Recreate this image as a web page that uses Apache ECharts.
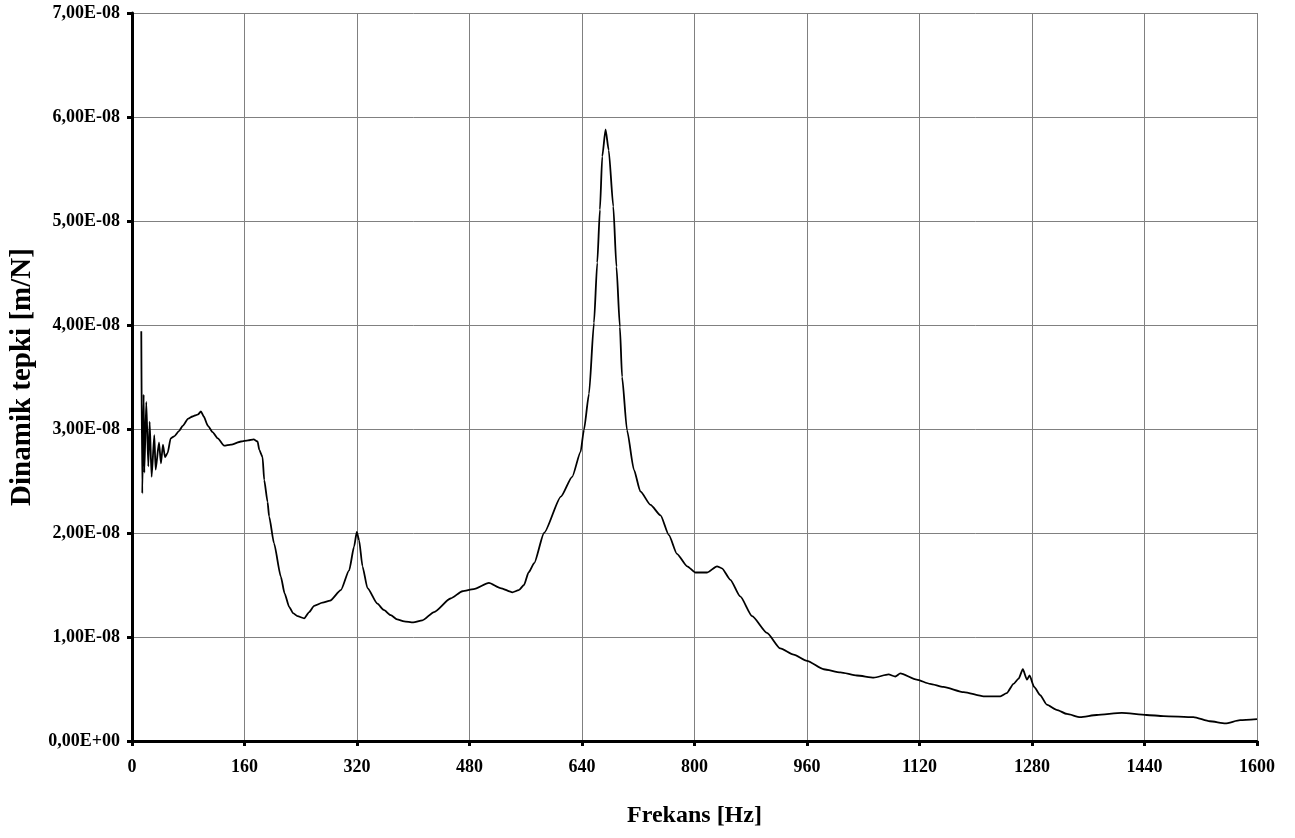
<!DOCTYPE html>
<html>
<head>
<meta charset="utf-8">
<script src="https://cdn.jsdelivr.net/npm/echarts@6/dist/echarts.min.js"></script>
<style>
html,body{margin:0;padding:0;background:#fff;}
#chart{width:1295px;height:838px;}
</style>
</head>
<body>
<div id="chart"></div>
<script>
// Frequency (Hz)
var freqHz = [13.2,14.6,16.6,17.5,20.3,23.2,25.1,27.9,31.7,33.6,38.4,41.2,44,46.9,50.7,55,60,66.8,72,80,86,89.5,94,98,102,108,114.6,122,131,140.7,155,165,173,178.6,181,185.7,188,192.8,195,202,211.7,217,223.5,229,235.4,244.8,252,259,271,281.8,297,308.8,315.9,319.7,323,327.8,334.9,349,358,368,377,387,400,413,429.6,453,470,486,507.7,524,541,550,557.5,564,572,586,610,626,638,642.7,650,657,661.7,665.5,668.8,673.5,678,684.5,689,693.9,697,704,713.8,723,737.5,751.7,763.6,775,789.6,801.4,818,832,839,851,865,882,903,922,941,960,983.8,1007.5,1031,1055,1076,1085.6,1092.7,1116,1135,1154,1183,1211,1235,1244,1253.7,1261,1267,1272.8,1276.5,1283,1291.7,1301,1315,1329.6,1348.5,1372,1407.8,1443,1467,1509.6,1533,1555,1576,1600];
// Dynamic response, in units of 1e-8 m/N
var responseE8 = [3.94,2.38,3.33,2.58,3.26,2.64,3.07,2.54,2.94,2.61,2.87,2.67,2.85,2.73,2.77,2.91,2.93,2.98,3.03,3.10,3.12,3.13,3.14,3.17,3.12,3.03,2.97,2.91,2.84,2.85,2.88,2.89,2.90,2.88,2.80,2.73,2.51,2.30,2.16,1.90,1.58,1.42,1.29,1.23,1.20,1.18,1.24,1.30,1.33,1.35,1.45,1.64,1.87,2.01,1.93,1.68,1.47,1.32,1.26,1.21,1.17,1.15,1.14,1.16,1.24,1.37,1.44,1.46,1.52,1.47,1.43,1.45,1.50,1.62,1.71,2.00,2.35,2.54,2.78,2.99,3.34,4.02,4.60,5.11,5.62,5.88,5.68,5.14,4.56,3.98,3.50,2.99,2.61,2.40,2.27,2.17,1.98,1.80,1.68,1.62,1.62,1.68,1.66,1.55,1.39,1.20,1.04,0.89,0.83,0.77,0.69,0.66,0.63,0.61,0.64,0.62,0.65,0.59,0.55,0.52,0.47,0.43,0.43,0.46,0.55,0.60,0.69,0.59,0.63,0.52,0.44,0.35,0.30,0.26,0.23,0.25,0.27,0.25,0.24,0.23,0.19,0.17,0.20,0.21];
var xTicks = {min: 0, max: 1600, interval: 160};
var yTicks = {min: 0, max: 7e-8, interval: 1e-8};
var xTitle = 'Frekans [Hz]';
var yTitle = 'Dinamik tepki [m/N]';

function sciFmt(v) {
  if (Math.abs(v) < 1e-20) return '0,00E+00';
  var e = Math.floor(Math.log10(Math.abs(v)) + 1e-9);
  var m = v / Math.pow(10, e);
  var s = m.toFixed(2).replace('.', ',');
  var es = Math.abs(e) < 10 ? '0' + Math.abs(e) : '' + Math.abs(e);
  return s + 'E' + (e < 0 ? '-' : '+') + es;
}

var data = freqHz.map(function (f, i) { return [f, responseE8[i] * 1e-8]; });

var chart = echarts.init(document.getElementById('chart'), null, {renderer: 'canvas'});
var font = '"Liberation Serif", "Times New Roman", serif';
chart.setOption({
  animation: false,
  backgroundColor: '#fff',
  grid: {left: 129, right: 38, top: 13, bottom: 97, containLabel: false},
  xAxis: {
    type: 'value', min: xTicks.min, max: xTicks.max, interval: xTicks.interval,
    name: xTitle, nameLocation: 'middle', nameGap: 63,
    nameTextStyle: {fontFamily: font, fontWeight: 'bold', fontSize: 24, color: '#000'},
    axisLine: {show: true, onZero: false, lineStyle: {color: '#000', width: 3}},
    axisTick: {show: true, inside: false, length: 5, lineStyle: {color: '#000', width: 3}},
    axisLabel: {fontFamily: font, fontWeight: 'bold', fontSize: 18, color: '#000', margin: 17,
      formatter: function (v) { return String(v); }},
    splitLine: {show: true, lineStyle: {color: '#808080', width: 1}}
  },
  yAxis: {
    type: 'value', min: yTicks.min, max: yTicks.max, interval: yTicks.interval,
    name: yTitle, nameLocation: 'middle', nameGap: 95, nameRotate: 90,
    nameTextStyle: {fontFamily: font, fontWeight: 'bold', fontSize: 29, color: '#000'},
    axisLine: {show: true, onZero: false, lineStyle: {color: '#000', width: 3}},
    axisTick: {show: true, inside: false, length: 5, lineStyle: {color: '#000', width: 3}},
    axisLabel: {fontFamily: font, fontWeight: 'bold', fontSize: 18, color: '#000', margin: 12, formatter: sciFmt},
    splitLine: {show: true, lineStyle: {color: '#808080', width: 1}}
  },
  series: [{
    type: 'line', data: data, showSymbol: false, symbol: 'none',
    lineStyle: {color: '#000', width: 1.8}, smooth: 0.2, smoothMonotone: 'x'
  }]
});
</script>
</body>
</html>
